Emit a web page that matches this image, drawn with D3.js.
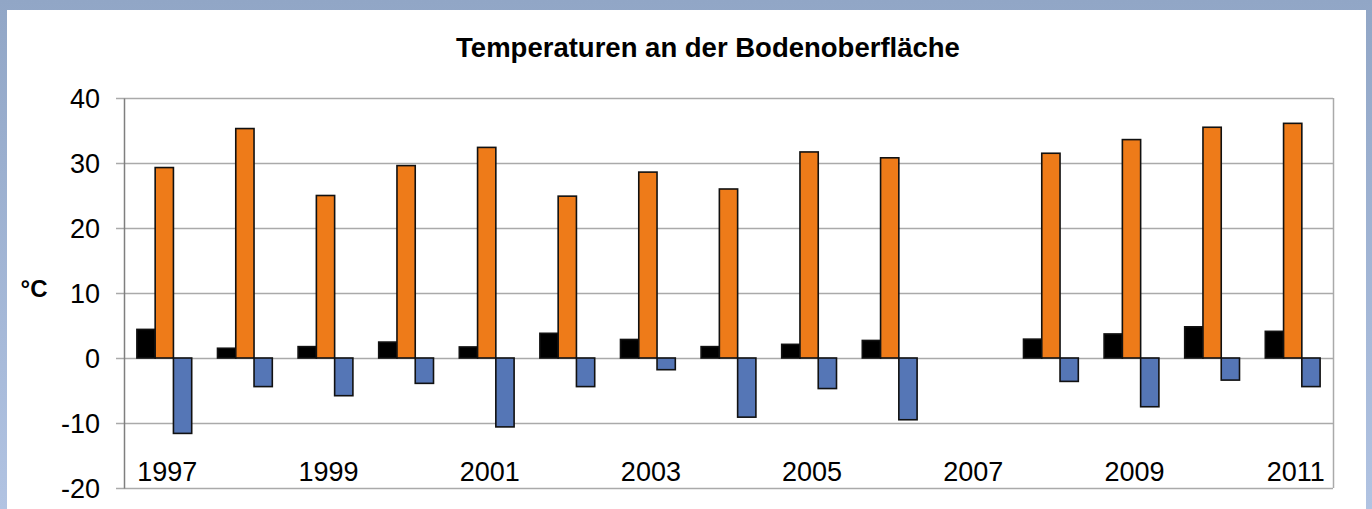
<!DOCTYPE html>
<html>
<head>
<meta charset="utf-8">
<script src="https://cdn.jsdelivr.net/npm/d3@7"></script>
<style>
  body { margin: 0; background: #fff; }
  svg { display: block; }
  text { font-family: "Liberation Sans", Arial, sans-serif; fill: #000; }
</style>
</head>
<body>
<svg id="chart"></svg>
<script>
var width = 1372,
    height = 509;

// data
var years = ["1997", "1998", "1999", "2000", "2001", "2002", "2003", "2004",
             "2005", "2006", "2007", "2008", "2009", "2010", "2011"];
var yearLabels = ["1997", "1999", "2001", "2003", "2005", "2007", "2009", "2011"];
var series = ["mittel", "max", "min"];
var meanTemp = [4.4, 1.5, 1.75, 2.45, 1.7, 3.8, 2.85, 1.75, 2.1, 2.7, null, 2.9, 3.7, 4.8, 4.1];
var maxTemp = [29.3, 35.3, 25.0, 29.6, 32.4, 24.9, 28.6, 26.0, 31.7, 30.8, null, 31.5, 33.6, 35.5, 36.1];
var minTemp = [-11.6, -4.4, -5.8, -3.9, -10.6, -4.4, -1.8, -9.1, -4.7, -9.5, null, -3.6, -7.5, -3.4, -4.4];
var yTicks = [-20, -10, 0, 10, 20, 30, 40];

var colors = { mittel: "#000000", max: "#ee7b19", min: "#5576b6" };

var margin = { top: 98, right: 39, bottom: 21, left: 124 };
var w = width - margin.left - margin.right,
    h = height - margin.top - margin.bottom;

var svg = d3.select("#chart")
  .attr("width", width)
  .attr("height", height);

// frame background
var defs = svg.append("defs");
var grad = defs.append("linearGradient")
  .attr("id", "frame")
  .attr("x1", 0).attr("y1", 0).attr("x2", 0).attr("y2", 1);
grad.append("stop").attr("offset", "0%").attr("stop-color", "#91a6c6");
grad.append("stop").attr("offset", "100%").attr("stop-color", "#b1c3e2");

svg.append("rect")
  .attr("width", width).attr("height", height)
  .attr("fill", "url(#frame)");
svg.append("rect")
  .attr("x", 7).attr("y", 10)
  .attr("width", 1359).attr("height", height)
  .attr("fill", "#fff");

var table = years.map(function (yr, i) {
  return { year: yr, mittel: meanTemp[i], max: maxTemp[i], min: minTemp[i] };
});

var x = d3.scaleBand()
  .domain(years)
  .range([0, w])
  .paddingInner(0.32)
  .paddingOuter(0.16);

var xs = d3.scaleBand()
  .domain(series)
  .range([0, x.bandwidth()]);

var y = d3.scaleLinear()
  .domain([-20, 40])
  .range([h, 0]);

var g = svg.append("g")
  .attr("transform", "translate(" + margin.left + "," + margin.top + ")");

// gridlines + tick marks
g.append("g")
    .attr("class", "grid")
  .selectAll("line")
    .data(yTicks)
  .enter().append("line")
    .attr("x1", -8)
    .attr("x2", w)
    .attr("y1", function (d) { return Math.round(y(d)) + 0.5; })
    .attr("y2", function (d) { return Math.round(y(d)) + 0.5; })
    .attr("stroke", "#aaaaaa")
    .attr("stroke-width", 1.5);

// right border
g.append("line")
  .attr("x1", w + 0.5).attr("x2", w + 0.5)
  .attr("y1", 0).attr("y2", h)
  .attr("stroke", "#aaaaaa")
  .attr("stroke-width", 1.5);

// y axis (plain hyphen for negatives, like the original)
var yAxis = d3.axisLeft(y)
  .tickValues(yTicks)
  .tickFormat(function (d) { return String(d); })
  .tickSize(0)
  .tickPadding(24);

var ya = g.append("g").call(yAxis);
ya.select(".domain").attr("stroke", "#7f7f7f").attr("stroke-width", 1.5);
ya.selectAll("text")
  .style("font-size", "27px")
  .attr("dy", "0.36em");

// bars
var groups = g.append("g")
    .attr("class", "bars")
  .selectAll("g")
    .data(table)
  .enter().append("g")
    .attr("transform", function (d) { return "translate(" + x(d.year) + ",0)"; });

groups.selectAll("rect")
    .data(function (d) {
      return series.map(function (s) { return { key: s, value: d[s] }; })
        .filter(function (e) { return e.value != null; });
    })
  .enter().append("rect")
    .attr("x", function (d) { return xs(d.key); })
    .attr("width", xs.bandwidth())
    .attr("y", function (d) { return y(Math.max(0, d.value)); })
    .attr("height", function (d) { return Math.abs(y(d.value) - y(0)); })
    .attr("fill", function (d) { return colors[d.key]; })
    .attr("stroke", "#111")
    .attr("stroke-width", 1.6);

// year labels inside the plot, above the bottom line
g.append("g")
    .attr("class", "years")
  .selectAll("text")
    .data(yearLabels)
  .enter().append("text")
    .attr("x", function (d) { return x(d) + x.bandwidth() / 2 + 3; })
    .attr("y", 383)
    .attr("text-anchor", "middle")
    .style("font-size", "27px")
    .text(function (d) { return d; });

// unit
svg.append("text")
  .attr("x", 34)
  .attr("y", 297)
  .attr("text-anchor", "middle")
  .style("font-size", "24px")
  .style("font-weight", "bold")
  .text("°C");

// title
svg.append("text")
  .attr("x", 708)
  .attr("y", 57)
  .attr("text-anchor", "middle")
  .style("font-size", "27.5px")
  .style("font-weight", "bold")
  .text("Temperaturen an der Bodenoberfläche");
</script>
</body>
</html>
